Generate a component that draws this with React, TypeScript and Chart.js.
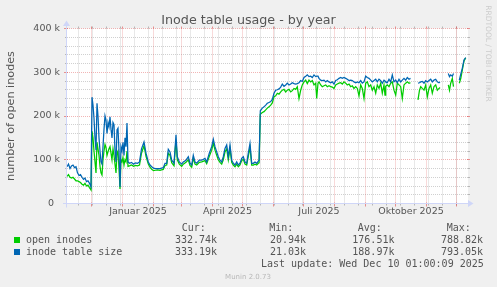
import React, { useEffect, useRef } from 'react';
import { Chart, registerables } from 'chart.js';

Chart.register(...registerables);

// x values: days since 1 Dec 2024
const days: number[] = [
  -24.5, -23, -21.5, -20, -18.5, -17, -15.5, -14, -12.5, -11, -9.5, -8, -6.5, -5, -3.5, -2, -0.5,
  0.5, 1.5, 2.5, 3.5, 4.5, 5.5, 6.5, 7.5, 8.5, 9.5, 10.5, 11.5, 12.5, 13.5, 14.5, 15.5, 16.5, 17.5, 18.5,
  19.5, 20.5, 21.5, 22.5, 23.5, 24.5, 25.5, 26.5, 27.5, 28.5, 29.5, 30.5, 31.5, 32.5, 33.5, 34.5, 35.5, 36.5,
  38, 40, 42, 44, 46, 48, 50, 52.5, 54.5, 56.8, 58.5, 60.2, 62, 64, 66, 68.5, 70, 71.8, 73.5, 75.2, 76.8,
  78.5, 80.2, 82.5, 84.5, 85.8, 87.8, 90.2, 91.8, 94.5, 96.8, 98.5, 100.2, 101.8, 103.5, 105.2, 107.8,
  110.2, 113.5, 115.2, 117.8, 120.2, 121.8, 123.5, 125.2, 126.8, 128.5, 130.2, 131.8, 133.5, 135.2, 136.8,
  138.5, 140.2, 141.8, 143.5, 145.2, 146.8, 148.5, 150.2, 151.8, 153.5, 155.2, 156.8, 158.5, 160.2, 161.8,
  163.5, 165.2, 166.8, 167.6, 168.8, 170.8, 172.5, 174.2, 175.8, 177.5, 179.2, 180.8, 182.5, 184.2, 185.8,
  187.5, 189.2, 190.8, 192.5, 194.2, 195.8, 197.5, 199.2, 200.8, 202.5, 204.2, 205.8, 207.5, 209.2, 210.8,
  212.5, 214.2, 215.8, 217.5, 219.2, 220.8, 222.5, 224.2, 225.2, 226.5, 227.5, 229.2, 230.8, 232.5, 234.2,
  235.8, 237.5, 239.2, 240.8, 242.5, 244.2, 245.8, 247.5, 249.2, 250.8, 252.5, 254.2, 255.8, 257.5, 259.2,
  260.8, 262.5, 264.2, 265.8, 267.5, 269.2, 270.8, 272.5, 274.2, 275.8, 277.5, 279.2, 280.8, 282.5, 284.2,
  285.8, 287.5, 289.2, 290.8, 292.5, 293.5, 294.2, 295.8, 297.5, 299.2, 300.8, 302.5, 304.2, 305.8, 307.5,
  309.2, 310.8, 312.5, 314.2, 315.8, 317.5, 319, 322, 326.5, 328, 329.2, 330.8, 332.5, 334.2, 335.8, 337.5,
  339.2, 340.8, 342.5, 344.2, 345.8, 347.5, 348.5, 352, 356.8, 358, 359.2, 360.8, 362, 365, 367.8, 369.2,
  370.8, 372.5, 374.2,
];

// inode table size (k)
const inodeTableSize: (number | null)[] = [
  84, 90, 80, 86, 88, 82, 84, 70, 64, 66, 60, 55, 58, 50, 52, 46, 38,
  243, 225, 195, 150, 122, 229, 200, 150, 120, 95, 90, 130, 170, 200, 190, 160, 185, 175, 198,
  170, 150, 185, 180, 120, 95, 168, 172, 120, 38, 130, 120, 140, 110, 150, 130, 184, 95,
  92, 94, 90, 93, 92, 95, 125, 141, 115, 95, 88, 84, 81, 80, 80, 80, 81, 82, 92, 92, 124,
  118, 99, 92, 157, 107, 95, 90, 95, 99, 107, 92, 88, 110, 95, 92, 99,
  99, 103, 95, 115, 130, 147, 130, 118, 107, 99, 95, 107, 126, 134, 107,
  134, 99, 92, 88, 95, 88, 92, 103, 107, 95, 92, 115, 137, 92, 92,
  95, 92, 97, 99, 212, 218, 221, 225, 229, 231, 233, 238, 252, 259, 260,
  262, 266, 273, 268, 271, 275, 271, 273, 276, 274, 273, 274, 276, 281, 279,
  288, 291, 294, 290, 291, 288, 294, 290, 291, 291, 286, 282, 281, 282, 278,
  281, 278, 276, 278, 273, 281, 283, 286, 288, 286, 288, 286, 284, 281, 282,
  281, 278, 276, 278, 276, 281, 275, 278, 291, 288, 286, 282, 278, 281, 284,
  278, 284, 281, 275, 282, 280, 278, 276, 284, 278, 294, 278, 282, 276, 284,
  278, 282, 286, 282, 288, 284, 286, null, 275, 276, 278, 279, 275, 281, 278, 281,
  284, 278, 282, 284, 278, 276, 278, null, 297, 290, 294, 291, 297, null, 282, 295,
  309, 328, 333.19,
];

// open inodes (k)
const openInodes: (number | null)[] = [
  62, 66, 60, 58, 60, 56, 52, 52, 50, 48, 44, 42, 46, 40, 42, 36, 31,
  165, 150, 120, 95, 70, 140, 125, 110, 85, 70, 65, 100, 120, 135, 128, 110, 118, 125, 130,
  115, 100, 125, 110, 90, 70, 115, 120, 80, 33, 100, 95, 105, 88, 100, 95, 120, 85,
  86, 88, 85, 87, 86, 88, 115, 132, 108, 90, 83, 78, 75, 76, 77, 76, 77, 78, 87, 88, 115,
  110, 93, 86, 145, 100, 90, 85, 90, 94, 100, 87, 83, 104, 90, 88, 94,
  95, 98, 91, 108, 122, 138, 122, 110, 100, 94, 90, 100, 118, 125, 100,
  125, 94, 88, 84, 90, 84, 88, 98, 101, 90, 88, 108, 128, 88, 88,
  90, 88, 92, 93, 204, 208, 210, 214, 218, 221, 225, 230, 244, 246, 252,
  250, 255, 259, 261, 255, 259, 261, 255, 258, 263, 261, 267, 240, 259, 271,
  278, 282, 274, 282, 278, 281, 271, 275, 240, 275, 278, 271, 267, 269, 271,
  267, 269, 267, 266, 263, 271, 273, 275, 276, 273, 278, 275, 271, 273, 267,
  269, 263, 267, 263, 246, 271, 263, 240, 275, 278, 267, 271, 259, 267, 252,
  271, 263, 275, 252, 271, 248, 268, 271, 267, 275, 278, 259, 248, 275, 271,
  267, 240, 271, 275, 278, 275, 276, null, 237, 259, 267, 263, 259, 271, 244, 263,
  271, 252, 267, 271, 259, 263, 265, null, 271, 259, 275, 286, 267, null, 275, 285,
  305, 326, 332.74,
];

const monthStartDays = [-30, 0, 31, 62, 90, 121, 151, 182, 212, 243, 274, 304, 335, 365];
const monthLabelDays = [46.5, 136, 227.5, 319.5];
const monthLabels = ['Januar 2025', 'April 2025', 'Juli 2025', 'Oktober 2025'];
const weekGridStart = 1;
const weekGridStep = 14;
const xMin = -24.5;
const xMax = 376.5;
const yMax = 400;
const yMajorStep = 100;
const yMinorStep = 20;

const seriesNames = ['open inodes', 'inode table size'];
const seriesColors = ['#00cc00', '#0066b3'];
const curStats = ['332.74k', '333.19k'];
const minStats = ['20.94k', '21.03k'];
const avgStats = ['176.51k', '188.97k'];
const maxStats = ['788.82k', '793.05k'];
const lastUpdate = 'Last update: Wed Dec 10 01:00:09 2025';
const chartTitle = 'Inode table usage - by year';
const yTitle = 'number of open inodes';

const MINOR = 'rgba(143,143,143,0.42)';
const MAJOR = 'rgba(222,79,79,0.42)';
const MINOR_TICK = 'rgba(143,143,143,0.6)';
const MAJOR_TICK = 'rgba(222,79,79,0.6)';
const AXIS = '#cfd6f8';
const TEXT = '#555555';

const muninPlugin = {
  id: 'munin',
  beforeDraw(chart: any) {
    const { ctx, width, height, chartArea: a } = chart;
    ctx.save();
    ctx.fillStyle = '#f0f0f0';
    ctx.fillRect(0, 0, width, height);
    ctx.fillStyle = '#ffffff';
    ctx.fillRect(a.left, a.top, a.right - a.left, a.bottom - a.top);
    ctx.restore();
  },
  beforeDatasetsDraw(chart: any) {
    const { ctx, chartArea: a, scales } = chart;
    const x = scales.x;
    const y = scales.y;
    const px = (v: number) => Math.floor(x.getPixelForValue(v)) + 0.5;
    const py = (v: number) => Math.floor(y.getPixelForValue(v)) + 0.5;
    const line = (x1: number, y1: number, x2: number, y2: number) => {
      ctx.beginPath();
      ctx.moveTo(x1, y1);
      ctx.lineTo(x2, y2);
      ctx.stroke();
    };
    ctx.save();
    ctx.lineWidth = 1;
    // minor grid
    const weeks: number[] = [];
    for (let d = weekGridStart; d > xMin; d -= weekGridStep) weeks.push(d);
    for (let d = weekGridStart + weekGridStep; d < xMax; d += weekGridStep) weeks.push(d);
    const minorY: number[] = [];
    for (let v = yMinorStep; v < yMax; v += yMinorStep) if (v % yMajorStep !== 0) minorY.push(v);
    ctx.strokeStyle = MINOR;
    ctx.setLineDash([1, 1]);
    weeks.forEach((d) => line(px(d), a.top, px(d), a.bottom));
    minorY.forEach((v) => line(a.left, py(v), a.right, py(v)));
    ctx.setLineDash([]);
    ctx.strokeStyle = MINOR_TICK;
    weeks.forEach((d) => {
      line(px(d), a.top - 2, px(d), a.top);
      line(px(d), a.bottom, px(d), a.bottom + 2);
    });
    minorY.forEach((v) => {
      line(a.left - 2, py(v), a.left, py(v));
      line(a.right, py(v), a.right + 2, py(v));
    });
    // major grid
    ctx.strokeStyle = MAJOR;
    const months = monthStartDays.filter((d) => d > xMin && d < xMax);
    const majorY: number[] = [];
    for (let v = yMajorStep; v <= yMax; v += yMajorStep) majorY.push(v);
    ctx.setLineDash([1, 1]);
    months.forEach((d) => line(px(d), a.top, px(d), a.bottom));
    majorY.forEach((v) => line(a.left, py(v), a.right, py(v)));
    ctx.setLineDash([]);
    ctx.strokeStyle = MAJOR_TICK;
    months.forEach((d) => {
      line(px(d), a.top - 2, px(d), a.top);
      line(px(d), a.bottom - 1, px(d), a.bottom + 3);
    });
    [0, ...majorY].forEach((v) => {
      line(a.left - 3, py(v), a.left + 1, py(v));
      line(a.right - 1, py(v), a.right + 2, py(v));
    });
    ctx.restore();
  },
  afterDatasetsDraw(chart: any) {
    const { ctx, chartArea: a, scales } = chart;
    const y0 = Math.floor(scales.y.getPixelForValue(0)) + 0.5;
    const xl = a.left - 0.5;
    ctx.save();
    ctx.strokeStyle = AXIS;
    ctx.fillStyle = AXIS;
    ctx.lineWidth = 1;
    ctx.beginPath();
    ctx.moveTo(a.left - 4, y0);
    ctx.lineTo(a.right + 2, y0);
    ctx.stroke();
    ctx.beginPath();
    ctx.moveTo(xl, a.bottom + 4);
    ctx.lineTo(xl, a.top - 3);
    ctx.stroke();
    ctx.beginPath();
    ctx.moveTo(a.right, y0 - 3.5);
    ctx.lineTo(a.right + 5.5, y0);
    ctx.lineTo(a.right, y0 + 3.5);
    ctx.closePath();
    ctx.fill();
    ctx.beginPath();
    ctx.moveTo(xl - 3.5, a.top - 2.5);
    ctx.lineTo(xl, a.top - 8);
    ctx.lineTo(xl + 3.5, a.top - 2.5);
    ctx.closePath();
    ctx.fill();
    ctx.restore();
  },
  afterDraw(chart: any) {
    const { ctx } = chart;
    ctx.save();
    ctx.fillStyle = TEXT;
    ctx.textAlign = 'center';
    ctx.textBaseline = 'alphabetic';
    ctx.font = '12.7px "DejaVu Sans"';
    ctx.fillText(chartTitle, 248.5, 24);

    ctx.textAlign = 'left';
    ctx.font = '10px "DejaVu Sans Mono"';
    ctx.fillText('Cur:', 181.7, 231);
    ctx.fillText('Min:', 269.3, 231);
    ctx.fillText('Avg:', 357.7, 231);
    ctx.fillText('Max:', 446.7, 231);
    seriesNames.forEach((name, i) => {
      const base = 243.3 + i * 12;
      ctx.fillStyle = seriesColors[i];
      ctx.fillRect(14, base - 6.3, 6, 6);
      ctx.fillStyle = TEXT;
      ctx.fillText(name, 26, base);
      ctx.fillText(curStats[i], 175, base);
      ctx.fillText(minStats[i], 270, base);
      ctx.fillText(avgStats[i], 352.3, base);
      ctx.fillText(maxStats[i], 441, base);
    });
    ctx.fillText(lastUpdate, 261, 267.3);

    ctx.fillStyle = '#b8b8b8';
    ctx.textAlign = 'center';
    ctx.font = '7px "DejaVu Sans"';
    ctx.fillText('Munin 2.0.73', 248, 279.3);

    ctx.translate(488, 53.5);
    ctx.rotate(Math.PI / 2);
    ctx.fillStyle = '#cccccc';
    ctx.font = '7.5px "DejaVu Sans"';
    ctx.textBaseline = 'middle';
    ctx.fillText('RRDTOOL / TOBI OETIKER', 0, 0);
    ctx.restore();
  },
};

export default function App() {
  const ref = useRef<HTMLCanvasElement | null>(null);
  useEffect(() => {
    if (!ref.current) return;
    const green = days.map((d, i) => ({ x: d, y: openInodes[i] }));
    const blue = days.map((d, i) => ({ x: d, y: inodeTableSize[i] }));
    const chart = new Chart(ref.current, {
      type: 'line',
      data: {
        datasets: [
          {
            label: seriesNames[0],
            data: green as any,
            borderColor: seriesColors[0],
            backgroundColor: seriesColors[0],
            borderWidth: 1.25,
            pointRadius: 0,
            tension: 0,
            spanGaps: false,
            order: 1,
          },
          {
            label: seriesNames[1],
            data: blue as any,
            borderColor: seriesColors[1],
            backgroundColor: seriesColors[1],
            borderWidth: 1.25,
            pointRadius: 0,
            tension: 0,
            spanGaps: false,
            order: 0,
          },
        ],
      },
      plugins: [muninPlugin],
      options: {
        responsive: false,
        maintainAspectRatio: false,
        animation: false,
        devicePixelRatio: 1,
        events: [],
        layout: { padding: { top: 28.5, right: 29, bottom: 0, left: 0 } },
        plugins: {
          legend: { display: false },
          tooltip: { enabled: false },
          title: { display: false },
        },
        scales: {
          x: {
            type: 'linear',
            min: xMin,
            max: xMax,
            grid: { display: false, drawTicks: false },
            border: { display: false },
            afterBuildTicks: (s: any) => {
              s.ticks = monthLabelDays.map((v) => ({ value: v }));
            },
            afterFit: (s: any) => {
              s.height = 83.5;
            },
            ticks: {
              autoSkip: false,
              maxRotation: 0,
              minRotation: 0,
              padding: 3.6,
              color: TEXT,
              font: { family: 'DejaVu Sans', size: 9.5, lineHeight: 1 },
              callback: (_v: any, i: number) => monthLabels[i],
            },
          },
          y: {
            type: 'linear',
            min: 0,
            max: yMax,
            grid: { display: false, drawTicks: false },
            border: { display: false },
            afterFit: (s: any) => {
              s.width = 67;
            },
            title: {
              display: true,
              text: yTitle,
              color: TEXT,
              font: { family: 'DejaVu Sans', size: 11.2, lineHeight: 1.2 },
              padding: { top: 4.3, bottom: 0 },
            },
            ticks: {
              stepSize: yMajorStep,
              padding: 7,
              color: TEXT,
              font: { family: 'DejaVu Sans', size: 9.5, lineHeight: 1 },
              callback: (v: any) => (v === 0 ? '0  ' : `${v} k`),
            },
          },
        },
      } as any,
    });
    return () => chart.destroy();
  }, []);
  return (
    <div style={{ position: 'absolute', left: 0, top: 0, width: 497, height: 287 }}>
      <canvas ref={ref} width={497} height={287} style={{ display: 'block' }} />
    </div>
  );
}
